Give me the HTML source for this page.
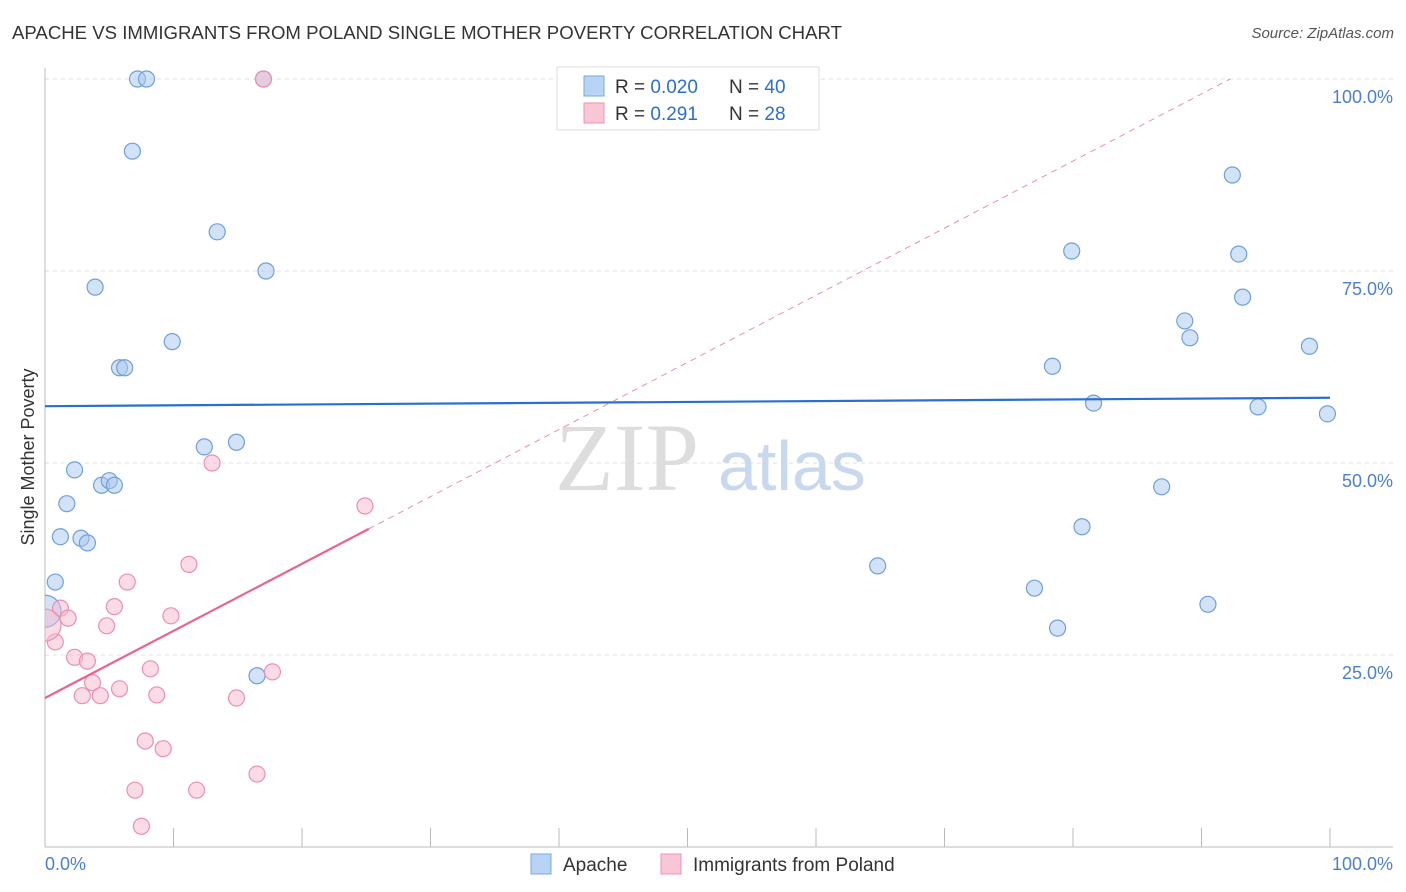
<!DOCTYPE html>
<html><head><meta charset="utf-8">
<style>
body{margin:0;background:#fff;font-family:"Liberation Sans",sans-serif;}
#wrap{position:relative;width:1406px;height:892px;overflow:hidden;}
.title{position:absolute;left:12px;top:22px;font-size:18.6px;color:#333;}
.source{position:absolute;right:12px;top:25px;font-size:15px;color:#555;font-style:italic;}
</style></head>
<body>
<div id="wrap">
<div class="title">APACHE VS IMMIGRANTS FROM POLAND SINGLE MOTHER POVERTY CORRELATION CHART</div>
<div class="source">Source: ZipAtlas.com</div>
<svg id="svg" width="1406" height="892" style="position:absolute;left:0;top:0">
<defs><clipPath id="pc"><rect x="45" y="0" width="1361" height="848"/></clipPath></defs>
</svg>
</div>
<script>
const apacheX=[7.2,7.9,17.0,6.8,13.4,17.2,3.9,9.9,5.8,6.2,12.4,14.9,2.3,4.4,5.0,5.4,1.7,1.2,2.8,3.3,0.8,0.0,16.5,64.8,77.0,78.8,80.7,78.4,79.9,81.6,86.9,88.7,89.1,90.5,92.4,92.9,93.2,94.4,98.4,99.8];
const apacheY=[100,100,100,90.6,80.1,75.0,72.9,65.8,62.4,62.4,52.1,52.7,49.1,47.1,47.7,47.1,44.7,40.4,40.2,39.6,34.5,30.7,22.3,36.6,33.7,28.5,41.7,62.6,77.6,57.8,46.9,68.5,66.3,31.6,87.5,77.2,71.6,57.3,65.2,56.4];
const polandX=[17.0,13.0,24.9,11.2,6.4,1.2,1.8,5.4,9.8,4.8,0.8,2.3,3.3,8.2,17.7,3.7,5.8,2.9,4.3,8.7,14.9,7.8,9.2,16.5,7.0,11.8,7.5,0.0];
const polandY=[100,50,44.4,36.8,34.5,31.1,29.8,31.3,30.1,28.8,26.7,24.7,24.2,23.2,22.8,21.4,20.6,19.7,19.7,19.8,19.4,13.8,12.8,9.5,7.4,7.4,2.7,28.9];
const apacheTrend=[57.4,58.5];
const polandTrend=[19.4,0.874];
const yTicks=[25,50,75,100];
const yTickLabels=["25.0%","50.0%","75.0%","100.0%"];
const xTicks=[0,10,20,30,40,50,60,70,80,90,100];

const svg=document.getElementById('svg');
const NS='http://www.w3.org/2000/svg';
const X=v=>45+v*12.85, Y=v=>847-v*7.68;
function mk(t,a,p){const e=document.createElementNS(NS,t);for(const k in a)e.setAttribute(k,a[k]);(p||svg).appendChild(e);return e;}

yTicks.forEach((t,i)=>{
 const g=mk('line',{x1:45,x2:1393,y1:Y(t),y2:Y(t),stroke:'#dde',"stroke-dasharray":'4,4'});
 
 
 const l=mk('text',{x:1393,y:Y(t)+24,"text-anchor":'end',"font-size":18,fill:'#4a7fd0',"font-family":'Liberation Sans'});
 l.textContent=yTickLabels[i];
 
 
});
const ax=mk('line',{x1:45,x2:1393,y1:847,y2:847,stroke:'#bbb'});


const ay=mk('line',{x1:45,x2:45,y1:68,y2:847,stroke:'#bbb'});


xTicks.forEach(t=>{
 const k=mk('line',{x1:X(t),x2:X(t),y1:828,y2:847,stroke:'#bbb'});
 
 
});
const wm=mk('text',{x:555,y:490,"font-size":96,fill:'#ddd',"font-family":'Liberation Serif'});
wm.textContent='ZIP';


const wm2=mk('text',{x:718,y:490,"font-size":70,fill:'#c8d8ee',"font-family":'Liberation Sans'});
wm2.textContent='atlas';



const pg=mk('g',{"clip-path":'url(#pc)'});


function pts(xs,ys,fill,stroke,name){
 xs.forEach((x,i)=>{
  const r=(x<0.1)?16:8;
  const c=mk('circle',{cx:X(x),cy:Y(ys[i]),r:r,fill:fill,"fill-opacity":0.5,stroke:stroke,"stroke-width":1.2},pg);
  
  
 });
}
pts(apacheX,apacheY,'#a8c8f0','#6e9fde','apache-point');
pts(polandX,polandY,'#f8b8cc','#ec8fb0','poland-point');

const bt=mk('line',{x1:X(0),y1:Y(apacheTrend[0]),x2:X(100),y2:Y(apacheTrend[1]),stroke:'#2a6fd0',"stroke-width":2.2});


const pe=(100-polandTrend[0])/polandTrend[1];
const pd=mk('line',{x1:X(25.2),y1:Y(polandTrend[0]+polandTrend[1]*25.2),x2:X(pe),y2:Y(100),stroke:'#e890a8',"stroke-width":1,"stroke-dasharray":'6,5'});


const ps=mk('line',{x1:X(0),y1:Y(polandTrend[0]),x2:X(25.2),y2:Y(polandTrend[0]+polandTrend[1]*25.2),stroke:'#e8648f',"stroke-width":2.2});



const x0=mk('text',{x:45,y:870,"font-size":18,fill:'#4a7fd0',"font-family":'Liberation Sans'});x0.textContent='0.0%';


const x1=mk('text',{x:1393,y:870,"text-anchor":'end',"font-size":18,fill:'#4a7fd0',"font-family":'Liberation Sans'});x1.textContent='100.0%';


const yt=mk('text',{x:34,y:457,"font-size":18,fill:'#333',"text-anchor":'middle',transform:'rotate(-90 34 457)',"font-family":'Liberation Sans'});yt.textContent='Single Mother Poverty';



const lg=mk('rect',{x:557,y:67,width:262,height:63,fill:'#fff',stroke:'#ddd'});


function row(y,fill,stroke,r,n){
 const s=mk('rect',{x:584,y:y-10,width:20,height:20,fill:fill,stroke:stroke});
 
 
 const t=mk('text',{x:615,y:y+7,"font-size":19,fill:'#333',"font-family":'Liberation Sans'});
 t.innerHTML='R = <tspan fill="#2a6fd0">'+r+'</tspan><tspan x="729">N = </tspan><tspan fill="#2a6fd0">'+n+'</tspan>';
 
 
}
row(86,'#b8d4f4','#7aa8e0','0.020','40');
row(113,'#f9c6d6','#f090b0',' 0.291','28');

function bl(x,fill,stroke,label){
 const s=mk('rect',{x:x,y:854,width:20,height:20,fill:fill,stroke:stroke});
 
 
 const t=mk('text',{x:x+32,y:871,"font-size":19,fill:'#333',"font-family":'Liberation Sans'});t.textContent=label;
 
 
}
bl(531,'#b8d4f4','#7aa8e0','Apache');
bl(661,'#f9c6d6','#f090b0','Immigrants from Poland');
</script>
</body></html>
